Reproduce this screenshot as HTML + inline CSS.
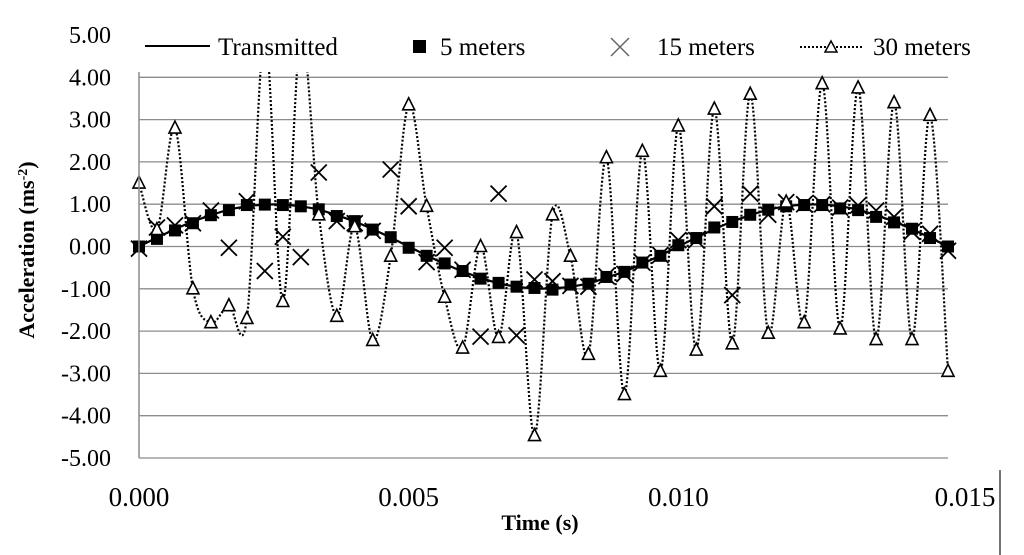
<!DOCTYPE html>
<html><head><meta charset="utf-8"><style>
body{margin:0;background:#fff}
svg{display:block;font-family:"Liberation Serif",serif}
</style></head><body>
<svg id="chart" width="1024" height="555">
<defs><clipPath id="plotclip"><rect x="120" y="72" width="850" height="400"/></clipPath></defs>
<g id="grid"></g>
<g id="series" clip-path="url(#plotclip)"></g>
<g id="axes"></g>
<g font-size="25">
 <line x1="145" y1="46" x2="210" y2="46" stroke="#000" stroke-width="2"/>
 <text x="218" y="55">Transmitted</text>
 <rect x="413" y="40" width="13" height="13" fill="#000"/>
 <text x="440" y="55">5 meters</text>
 <path d="M611 38 L629 56 M629 38 L611 56" stroke="#666" stroke-width="1.5"/>
 <text x="657" y="55">15 meters</text>
 <line x1="800" y1="47" x2="862" y2="47" stroke="#000" stroke-width="2" stroke-dasharray="2,2"/>
 <path d="M831 41 L837 52 L825 52 Z" fill="#fff" stroke="#000" stroke-width="1.5"/>
 <text x="873" y="55">30 meters</text>
</g>
<text x="540" y="530" font-size="22" font-weight="bold" text-anchor="middle">Time (s)</text>
<text transform="translate(34,250) rotate(-90)" font-size="22" font-weight="bold" text-anchor="middle">Acceleration (ms<tspan baseline-shift="super" font-size="14">-2</tspan>)</text>
<line x1="1000" y1="470" x2="1000" y2="555" stroke="#444" stroke-width="1.5"/>
</svg>
<script>
const yTicks=[5,4,3,2,1,0,-1,-2,-3,-4,-5];
const yTickLabels=["5.00","4.00","3.00","2.00","1.00","0.00","-1.00","-2.00","-3.00","-4.00","-5.00"];
const xTicks=[0,0.005,0.010,0.015];
const xTickLabels=["0.000","0.005","0.010","0.015"];
const times=[0,0.000333,0.000667,0.001,0.001333,0.001667,0.002,0.002333,0.002667,0.003,0.003333,0.003667,0.004,0.004333,0.004667,0.005,0.005333,0.005667,0.006,0.006333,0.006667,0.007,0.007333,0.007667,0.008,0.008333,0.008667,0.009,0.009333,0.009667,0.010,0.010333,0.010667,0.011,0.011333,0.011667,0.012,0.012333,0.012667,0.013,0.013333,0.013667,0.014,0.014333,0.014667,0.015];
const transmitted=[0,0.21,0.41,0.59,0.74,0.87,0.95,0.99,0.99,0.95,0.87,0.74,0.59,0.41,0.21,0,-0.21,-0.41,-0.59,-0.74,-0.87,-0.95,-0.99,-0.99,-0.95,-0.87,-0.74,-0.59,-0.41,-0.21,0,0.21,0.41,0.59,0.74,0.87,0.95,0.99,0.99,0.95,0.87,0.74,0.59,0.41,0.21,0];
const m5=[0,0.18,0.38,0.55,0.74,0.86,0.98,0.99,0.98,0.95,0.88,0.72,0.6,0.4,0.22,-0.03,-0.22,-0.4,-0.58,-0.76,-0.86,-0.95,-0.98,-1.02,-0.9,-0.88,-0.72,-0.6,-0.38,-0.22,0.03,0.2,0.45,0.58,0.75,0.87,0.95,0.98,0.98,0.9,0.86,0.7,0.57,0.42,0.2,0];
const m15=[-0.05,0.45,0.5,0.55,0.85,-0.03,1.07,-0.58,0.23,-0.25,1.75,0.6,0.55,0.37,1.82,0.95,-0.37,-0.03,-0.55,-2.13,1.25,-2.1,-0.78,-0.82,-0.93,-0.95,-0.7,-0.65,-0.38,-0.2,0.15,0.15,0.95,-1.15,1.25,0.75,1.05,1.0,1.0,0.92,0.97,0.85,0.7,0.35,0.3,-0.1];
const m30=[1.5,0.4,2.8,-1.0,-1.8,-1.4,-1.7,5.0,-1.3,5.0,0.75,-1.65,0.47,-2.22,-0.23,3.35,0.95,-1.2,-2.4,0.0,-2.15,0.33,-4.47,0.75,-0.23,-2.55,2.1,-3.5,2.25,-2.95,2.85,-2.45,3.25,-2.3,3.6,-2.05,1.05,-1.8,3.85,-1.95,3.75,-2.2,3.4,-2.2,3.1,-2.95];

const NS="http://www.w3.org/2000/svg";
const X0=139,X1=948,Y0=458,Y1=35;
function xs(t){return X0+(t-0)/(0.015-0)*(X1-X0);}
function ys(v){return Y0-(v+5)/10*(Y0-Y1);}
function mk(tag,attrs,parent){const e=document.createElementNS(NS,tag);for(const k in attrs)e.setAttribute(k,attrs[k]);parent.appendChild(e);return e;}
const grid=document.getElementById('grid'),axes=document.getElementById('axes'),ser=document.getElementById('series');
yTicks.forEach((v,i)=>{
 if(v!==5){const l=mk('line',{x1:X0,x2:X1,y1:ys(v),y2:ys(v),stroke:'#8c8c8c','stroke-width':1.3},grid);
 
 }
 const t=mk('text',{x:111,y:ys(v)+8,'font-size':24,'text-anchor':'end'},axes);t.textContent=yTickLabels[i];
 
 
});
xTicks.forEach((v,i)=>{
 const t=mk('text',{x:xs(v)+(i===3?17:0),y:506,'font-size':27,'text-anchor':'middle'},axes);t.textContent=xTickLabels[i];
 
 
});
const ax=mk('line',{x1:X0,x2:X0,y1:72,y2:Y0,stroke:'#8c8c8c','stroke-width':1.5},axes);


function smooth(arr){
 const P=arr.map((v,i)=>[xs(times[i]),ys(v)]);
 let d='M'+P[0][0].toFixed(1)+' '+P[0][1].toFixed(1);
 for(let i=0;i<P.length-1;i++){
  const p0=P[Math.max(0,i-1)],p1=P[i],p2=P[i+1],p3=P[Math.min(P.length-1,i+2)];
  const c1=[p1[0]+(p2[0]-p0[0])/6,p1[1]+(p2[1]-p0[1])/6];
  const c2=[p2[0]-(p3[0]-p1[0])/6,p2[1]-(p3[1]-p1[1])/6];
  d+=` C${c1[0].toFixed(1)} ${c1[1].toFixed(1)} ${c2[0].toFixed(1)} ${c2[1].toFixed(1)} ${p2[0].toFixed(1)} ${p2[1].toFixed(1)}`;
 }
 return d;
}
const p30=mk('path',{d:smooth(m30),fill:'none',stroke:'#000','stroke-width':2.2,'stroke-dasharray':'2,2'},ser);


const p0=mk('path',{d:smooth(transmitted),fill:'none',stroke:'#000','stroke-width':2.2},ser);


m5.forEach((v,i)=>{const r=mk('rect',{x:xs(times[i])-6,y:ys(v)-6,width:12,height:12,fill:'#000'},ser);
 
 });
m15.forEach((v,i)=>{const x=xs(times[i]),y=ys(v);const p=mk('path',{d:`M${x-8} ${y-8}L${x+8} ${y+8}M${x+8} ${y-8}L${x-8} ${y+8}`,stroke:'#000','stroke-width':1.8},ser);
 
 });
m30.forEach((v,i)=>{const x=xs(times[i]),y=ys(v);const p=mk('path',{d:`M${x} ${y-7}L${x+6} ${y+5}L${x-6} ${y+5}Z`,fill:'#fff',stroke:'#000','stroke-width':1.6},ser);
 
 });
</script>
</body></html>
